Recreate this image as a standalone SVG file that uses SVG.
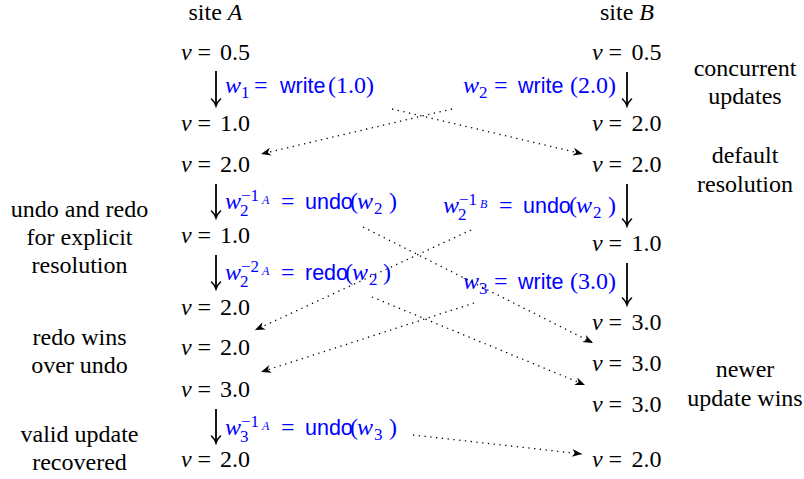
<svg xmlns="http://www.w3.org/2000/svg" width="804" height="479" viewBox="0 0 804 479" font-family="Liberation Serif">
<defs>
<marker id="to" markerUnits="userSpaceOnUse" markerWidth="12" markerHeight="12" refX="-2" refY="0" orient="auto" overflow="visible">
<path d="M-7,-4.5 C-4.5,-1.8 -1.5,-0.5 0,0 C-1.5,0.5 -4.5,1.8 -7,4.5" fill="none" stroke="#000" stroke-width="1.6" stroke-linecap="round"/>
</marker>
<marker id="stealth" markerUnits="userSpaceOnUse" markerWidth="12" markerHeight="12" refX="0" refY="0" orient="auto" overflow="visible">
<path d="M0,0 L-10,-4 L-7,0 L-10,4 Z" fill="#000"/>
</marker>
</defs>
<g id="siteA"><text font-family="Liberation Serif" font-size="24" text-anchor="middle" x="215.5" y="20">site <tspan font-style="italic">A</tspan></text></g>
<g id="siteB"><text font-family="Liberation Serif" font-size="24" text-anchor="middle" x="627" y="20">site <tspan font-style="italic">B</tspan></text></g>
<g id="lbl-concurrent"><text font-family="Liberation Serif" font-size="24" text-anchor="middle" x="745" y="76">concurrent</text><text font-family="Liberation Serif" font-size="24" text-anchor="middle" x="745" y="104">updates</text></g>
<g id="lbl-default"><text font-family="Liberation Serif" font-size="24" text-anchor="middle" x="745" y="163">default</text><text font-family="Liberation Serif" font-size="24" text-anchor="middle" x="745" y="192">resolution</text></g>
<g id="lbl-newer"><text font-family="Liberation Serif" font-size="24" text-anchor="middle" x="745" y="377">newer</text><text font-family="Liberation Serif" font-size="24" text-anchor="middle" x="745" y="406">update wins</text></g>
<g id="lbl-undoredo"><text font-family="Liberation Serif" font-size="24" text-anchor="middle" x="79.5" y="217">undo and redo</text><text font-family="Liberation Serif" font-size="24" text-anchor="middle" x="79.5" y="245">for explicit</text><text font-family="Liberation Serif" font-size="24" text-anchor="middle" x="79.5" y="273">resolution</text></g>
<g id="lbl-redowins"><text font-family="Liberation Serif" font-size="24" text-anchor="middle" x="79.5" y="345">redo wins</text><text font-family="Liberation Serif" font-size="24" text-anchor="middle" x="79.5" y="373">over undo</text></g>
<g id="lbl-valid"><text font-family="Liberation Serif" font-size="24" text-anchor="middle" x="79.5" y="442">valid update</text><text font-family="Liberation Serif" font-size="24" text-anchor="middle" x="79.5" y="470">recovered</text></g>
<g id="a1"><text font-family="Liberation Serif" font-size="24" y="60"><tspan font-style="italic" x="181">v</tspan><tspan x="197.5">=</tspan><tspan x="220">0.5</tspan></text></g>
<g id="a2"><text font-family="Liberation Serif" font-size="24" y="131"><tspan font-style="italic" x="181">v</tspan><tspan x="197.5">=</tspan><tspan x="220">1.0</tspan></text></g>
<g id="a3"><text font-family="Liberation Serif" font-size="24" y="172"><tspan font-style="italic" x="181">v</tspan><tspan x="197.5">=</tspan><tspan x="220">2.0</tspan></text></g>
<g id="a4"><text font-family="Liberation Serif" font-size="24" y="243"><tspan font-style="italic" x="181">v</tspan><tspan x="197.5">=</tspan><tspan x="220">1.0</tspan></text></g>
<g id="a5"><text font-family="Liberation Serif" font-size="24" y="315"><tspan font-style="italic" x="181">v</tspan><tspan x="197.5">=</tspan><tspan x="220">2.0</tspan></text></g>
<g id="a6"><text font-family="Liberation Serif" font-size="24" y="355"><tspan font-style="italic" x="181">v</tspan><tspan x="197.5">=</tspan><tspan x="220">2.0</tspan></text></g>
<g id="a7"><text font-family="Liberation Serif" font-size="24" y="397"><tspan font-style="italic" x="181">v</tspan><tspan x="197.5">=</tspan><tspan x="220">3.0</tspan></text></g>
<g id="a8"><text font-family="Liberation Serif" font-size="24" y="467"><tspan font-style="italic" x="181">v</tspan><tspan x="197.5">=</tspan><tspan x="220">2.0</tspan></text></g>
<g id="b1"><text font-family="Liberation Serif" font-size="24" y="60"><tspan font-style="italic" x="592">v</tspan><tspan x="608.5">=</tspan><tspan x="631.5">0.5</tspan></text></g>
<g id="b2"><text font-family="Liberation Serif" font-size="24" y="131"><tspan font-style="italic" x="592">v</tspan><tspan x="608.5">=</tspan><tspan x="631.5">2.0</tspan></text></g>
<g id="b3"><text font-family="Liberation Serif" font-size="24" y="172"><tspan font-style="italic" x="592">v</tspan><tspan x="608.5">=</tspan><tspan x="631.5">2.0</tspan></text></g>
<g id="b4"><text font-family="Liberation Serif" font-size="24" y="251"><tspan font-style="italic" x="592">v</tspan><tspan x="608.5">=</tspan><tspan x="631.5">1.0</tspan></text></g>
<g id="b5"><text font-family="Liberation Serif" font-size="24" y="330"><tspan font-style="italic" x="592">v</tspan><tspan x="608.5">=</tspan><tspan x="631.5">3.0</tspan></text></g>
<g id="b6"><text font-family="Liberation Serif" font-size="24" y="371"><tspan font-style="italic" x="592">v</tspan><tspan x="608.5">=</tspan><tspan x="631.5">3.0</tspan></text></g>
<g id="b7"><text font-family="Liberation Serif" font-size="24" y="412"><tspan font-style="italic" x="592">v</tspan><tspan x="608.5">=</tspan><tspan x="631.5">3.0</tspan></text></g>
<g id="b8"><text font-family="Liberation Serif" font-size="24" y="467"><tspan font-style="italic" x="592">v</tspan><tspan x="608.5">=</tspan><tspan x="631.5">2.0</tspan></text></g>
<g id="op-w1" fill="#0000ff"><text font-family="Liberation Serif" font-size="24"><tspan font-style="italic" x="225" y="93">w</tspan><tspan font-size="17" x="241" y="98">1</tspan><tspan x="254" y="93">=</tspan><tspan font-family="Liberation Sans" font-size="21.5" x="280" y="93">write</tspan><tspan x="328" y="93">(1.0)</tspan></text></g>
<g id="op-w2" fill="#0000ff"><text font-family="Liberation Serif" font-size="24"><tspan font-style="italic" x="463" y="93">w</tspan><tspan font-size="17" x="479" y="98">2</tspan><tspan x="494" y="93">=</tspan><tspan font-family="Liberation Sans" font-size="21.5" x="518" y="93">write</tspan><tspan x="570" y="93">(2.0)</tspan></text></g>
<g id="op-undoA" fill="#0000ff"><text font-family="Liberation Serif" font-size="24"><tspan font-style="italic" x="225" y="209">w</tspan><tspan font-size="17" x="240" y="216">2</tspan><tspan font-size="17" x="241" y="201">&#8722;1</tspan><tspan font-size="12" font-style="italic" x="262" y="204">A</tspan><tspan x="281" y="209">=</tspan><tspan font-family="Liberation Sans" font-size="21.5" x="305" y="209">undo</tspan><tspan x="350" y="209">(</tspan><tspan font-style="italic" x="357" y="209">w</tspan><tspan font-size="17" x="374" y="214">2</tspan><tspan x="389" y="209">)</tspan></text></g>
<g id="op-undoB" fill="#0000ff"><text font-family="Liberation Serif" font-size="24"><tspan font-style="italic" x="443" y="213">w</tspan><tspan font-size="17" x="458" y="220">2</tspan><tspan font-size="17" x="459" y="205">&#8722;1</tspan><tspan font-size="12" font-style="italic" x="480" y="208">B</tspan><tspan x="499" y="213">=</tspan><tspan font-family="Liberation Sans" font-size="21.5" x="523" y="213">undo</tspan><tspan x="569" y="213">(</tspan><tspan font-style="italic" x="576" y="213">w</tspan><tspan font-size="17" x="593" y="218">2</tspan><tspan x="608" y="213">)</tspan></text></g>
<g id="op-redoA" fill="#0000ff"><text font-family="Liberation Serif" font-size="24"><tspan font-style="italic" x="225" y="280">w</tspan><tspan font-size="17" x="240" y="287">2</tspan><tspan font-size="17" x="241" y="272">&#8722;2</tspan><tspan font-size="12" font-style="italic" x="262" y="275">A</tspan><tspan x="281" y="280">=</tspan><tspan font-family="Liberation Sans" font-size="21.5" x="305" y="280">redo</tspan><tspan x="345" y="280">(</tspan><tspan font-style="italic" x="352" y="280">w</tspan><tspan font-size="17" x="369" y="285">2</tspan><tspan x="383" y="280">)</tspan></text></g>
<g id="op-w3" fill="#0000ff"><text font-family="Liberation Serif" font-size="24"><tspan font-style="italic" x="463" y="289">w</tspan><tspan font-size="17" x="479" y="294">3</tspan><tspan x="494" y="289">=</tspan><tspan font-family="Liberation Sans" font-size="21.5" x="518" y="289">write</tspan><tspan x="570" y="289">(3.0)</tspan></text></g>
<g id="op-undoA3" fill="#0000ff"><text font-family="Liberation Serif" font-size="24"><tspan font-style="italic" x="225" y="435">w</tspan><tspan font-size="17" x="240" y="442">3</tspan><tspan font-size="17" x="241" y="427">&#8722;1</tspan><tspan font-size="12" font-style="italic" x="262" y="430">A</tspan><tspan x="281" y="435">=</tspan><tspan font-family="Liberation Sans" font-size="21.5" x="305" y="435">undo</tspan><tspan x="350" y="435">(</tspan><tspan font-style="italic" x="357" y="435">w</tspan><tspan font-size="17" x="374" y="440">3</tspan><tspan x="389" y="435">)</tspan></text></g>
<g id="connectors" fill="none" stroke="#000">
<g stroke-width="1.8" marker-end="url(#to)">
<line x1="216" y1="71" x2="216" y2="104"/>
<line x1="216" y1="184" x2="216" y2="216"/>
<line x1="216" y1="255" x2="216" y2="287"/>
<line x1="216" y1="409" x2="216" y2="441"/>
<line x1="627" y1="72" x2="627" y2="104"/>
<line x1="627" y1="184" x2="627" y2="224"/>
<line x1="627" y1="263" x2="627" y2="303"/>
</g>
<g stroke-width="1.3" stroke-dasharray="1.3 4.5" marker-end="url(#stealth)">
<line x1="392" y1="109" x2="583" y2="154"/>
<line x1="452" y1="109" x2="261" y2="154"/>
<line x1="363" y1="227" x2="593" y2="343"/>
<line x1="471" y1="230" x2="255" y2="330"/>
<line x1="372" y1="297" x2="585" y2="385"/>
<line x1="474" y1="303" x2="261" y2="372"/>
<line x1="413" y1="435" x2="582" y2="454"/>
</g>
</g>
</svg>
